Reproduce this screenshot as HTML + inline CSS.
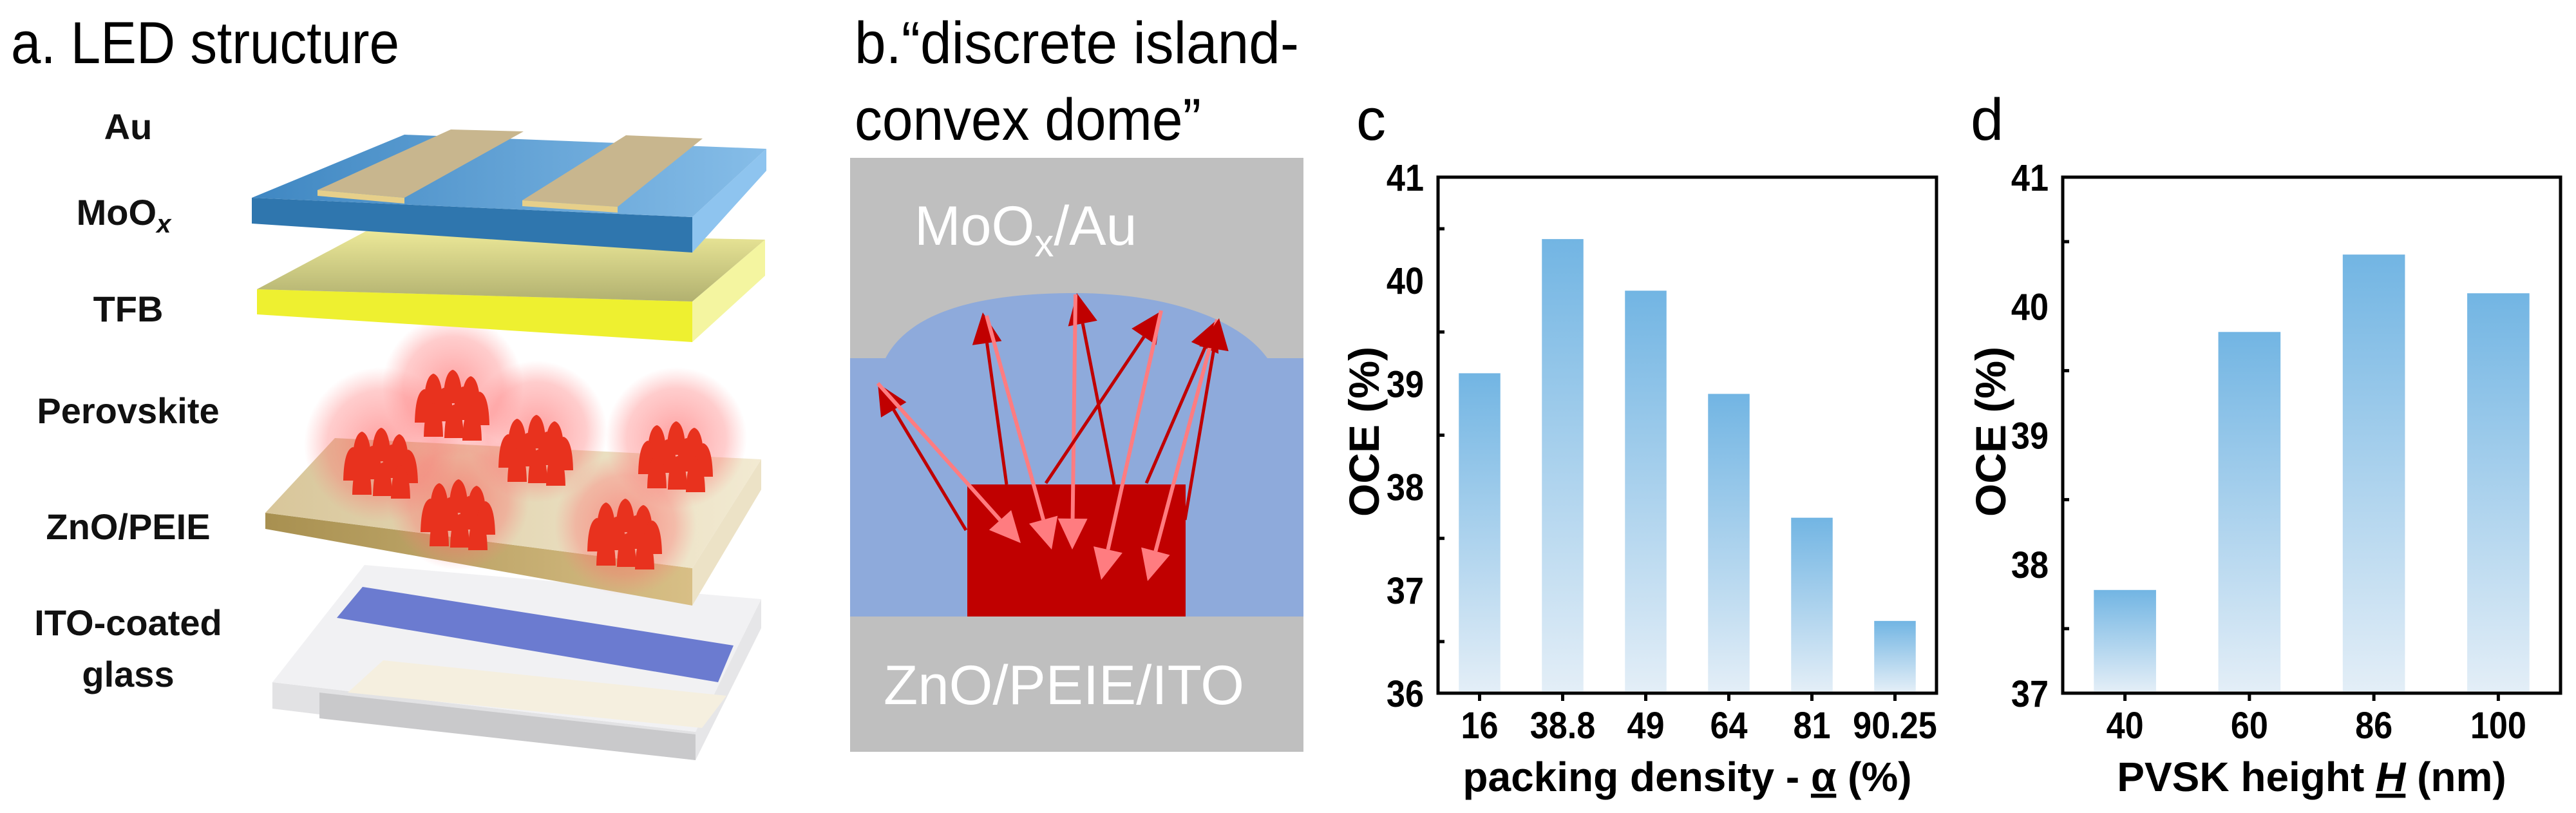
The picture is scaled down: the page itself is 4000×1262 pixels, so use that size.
<!DOCTYPE html>
<html><head><meta charset="utf-8"><style>
html,body{margin:0;padding:0;background:#fff;}
svg{display:block;}
text{font-family:"Liberation Sans",Arial,sans-serif;}
</style></head><body>
<svg id="fig" width="4000" height="1262" viewBox="0 0 4000 1262" xmlns="http://www.w3.org/2000/svg">
<defs>
<linearGradient id="barGrad" x1="0" y1="0" x2="0" y2="1">
<stop offset="0" stop-color="#72b5e3"/><stop offset="1" stop-color="#e3eef7"/></linearGradient>
<radialGradient id="glow"><stop offset="0" stop-color="#ff5050" stop-opacity="0.55"/><stop offset="0.7" stop-color="#ff7070" stop-opacity="0.35"/><stop offset="1" stop-color="#ff8080" stop-opacity="0"/></radialGradient>
<linearGradient id="blueTop" x1="0" y1="0" x2="1" y2="0"><stop offset="0" stop-color="#3f87c2"/><stop offset="1" stop-color="#86bde8"/></linearGradient>
<linearGradient id="yelTop" x1="0" y1="0" x2="0" y2="1"><stop offset="0" stop-color="#e9e58c"/><stop offset="1" stop-color="#a9a860"/></linearGradient>
<linearGradient id="tanTop" x1="0" y1="0" x2="1" y2="0"><stop offset="0" stop-color="#d8c69a"/><stop offset="1" stop-color="#f2ead2"/></linearGradient>
<linearGradient id="tanFront" x1="0" y1="0" x2="1" y2="0"><stop offset="0" stop-color="#a89050"/><stop offset="1" stop-color="#d8bf86"/></linearGradient>
</defs>

<text x="17" y="98" font-size="92" textLength="603" lengthAdjust="spacingAndGlyphs">a. LED structure</text>
<text x="1327" y="98" font-size="92" textLength="690" lengthAdjust="spacingAndGlyphs">b.“discrete island-</text>
<text x="1327" y="217" font-size="92" textLength="538" lengthAdjust="spacingAndGlyphs">convex dome”</text>
<text x="2106" y="217" font-size="92">c</text>
<text x="3060" y="217" font-size="92">d</text>

<g>
<g font-weight="bold" font-size="56" text-anchor="middle" fill="#111">
<text x="199" y="216">Au</text>
<text x="192" y="349">MoO<tspan font-size="40" dy="12" font-style="italic">x</tspan></text>
<text x="199" y="499">TFB</text>
<text x="199" y="657">Perovskite</text>
<text x="199" y="837">ZnO/PEIE</text>
<text x="199" y="986">ITO-coated</text>
<text x="199" y="1066">glass</text>
</g>
<g>
<polygon points="423,1059 1080,1136 1080,1180 423,1100" fill="#e2e2e4"/>
<polygon points="496,1075 1080,1140 1080,1180 496,1115" fill="#c9c9cb"/>
<polygon points="1080,1136 1182,930 1182,975 1080,1180" fill="#e6e6e8"/>
<polygon points="423,1059 566,877 1182,930 1080,1136" fill="#f1f1f3"/>
<polygon points="595,1025 1128,1080 1090,1130 540,1075" fill="#f5efdf"/>
<polygon points="563,911 1139,1002 1115,1059 523,959" fill="#6b7bd0"/>
</g>
<g>
<polygon points="412,796 1075,882 1075,940 412,821" fill="url(#tanFront)"/>
<polygon points="1075,882 1182,713 1182,760 1075,940" fill="#ece2c6"/>
<polygon points="412,796 520,680 1182,713 1075,882" fill="url(#tanTop)"/>
</g>
<g>
<circle cx="592" cy="690" r="120" fill="url(#glow)"/>
<circle cx="703" cy="600" r="110" fill="url(#glow)"/>
<circle cx="833" cy="670" r="110" fill="url(#glow)"/>
<circle cx="1050" cy="680" r="110" fill="url(#glow)"/>
<circle cx="712" cy="775" r="110" fill="url(#glow)"/>
<circle cx="971" cy="815" r="110" fill="url(#glow)"/>
<g id="cones" fill="#e8321e"></g>
</g>
<g>
<polygon points="399,449 1075,468 1075,531 399,488" fill="#eef030"/>
<polygon points="1075,468 1188,372 1188,428 1075,531" fill="#f4f5a0"/>
<polygon points="399,449 568,359 1188,372 1075,468" fill="url(#yelTop)" opacity="0.9"/>
</g>
<g>
<polygon points="391,307 1075,337 1075,392 391,347" fill="#2f76ae"/>
<polygon points="1075,337 1190,231 1190,265 1075,392" fill="#8ec4ef"/>
<polygon points="391,307 628,209 1190,231 1075,337" fill="url(#blueTop)"/>
<polygon points="493,295 628,307 813,204 700,201" fill="#c8b68e"/>
<polygon points="493,295 628,307 628,316 493,304" fill="#e6cf8a"/>
<polygon points="811,311 959,321 1091,215 972,210" fill="#c8b68e"/>
<polygon points="811,311 959,321 959,330 811,320" fill="#e6cf8a"/>
</g>
</g>

<g>
<rect x="1320" y="245" width="704" height="922" fill="#bfbfbf"/>
<path d="M1320,556 L1375,556 C1420,470 1560,455 1670,455 C1800,455 1920,490 1968,556 L2024,556 L2024,957 L1320,957 Z" fill="#8eaadb"/>
<rect x="1502" y="752" width="339" height="205" fill="#c00000"/>
<g id="rays"></g>
<text x="1420" y="380" font-size="86" fill="#fff">MoO<tspan font-size="60" dy="18">x</tspan><tspan dy="-18">/Au</tspan></text>
<text x="1372" y="1093" font-size="86" fill="#fff" textLength="560" lengthAdjust="spacingAndGlyphs">ZnO/PEIE/ITO</text>
</g>

<g id="chartC"></g>
<g id="chartD"></g>
</svg>
<script>
const catsC = ["16","38.8","49","64","81","90.25"];
const valsC = [39.1, 40.4, 39.9, 38.9, 37.7, 36.7];
const ticksC = [36, 37, 38, 39, 40, 41];
const catsD = ["40","60","86","100"];
const valsD = [37.8, 39.8, 40.4, 40.1];
const ticksD = [37, 38, 39, 40, 41];

const NS = "http://www.w3.org/2000/svg";
function mk(tag, attrs, parent){ const e=document.createElementNS(NS,tag); for(const k in attrs) e.setAttribute(k,attrs[k]); parent.appendChild(e); return e; }

function drawChart(g, cats, vals, ticks, box, xTitleParts, yTitleX, key){
  const ymin=ticks[0], ymax=ticks[ticks.length-1];
  const yS = v => box.b - (v-ymin)/(ymax-ymin)*(box.b-box.t);
  const step = (box.r-box.l)/cats.length;
  const xS = i => box.l + step*(i+0.5);
  cats.forEach((c,i)=>{
    const y=yS(vals[i]);
    const r=mk('rect',{x:xS(i)-step/4,y:y,width:step/2,height:yS(ymin)-y-3,fill:'url(#barGrad)'},g);
    
    
    const tk=mk('line',{x1:xS(i),x2:xS(i),y1:box.b,y2:box.b+12,stroke:'#000','stroke-width':5},g);
    
    
    const t=mk('text',{x:xS(i),y:box.b+70,'text-anchor':'middle','font-size':58,'font-weight':'bold'},g);
    t.textContent=c;
    
    
    const w=t.getComputedTextLength(); if(w>0){t.setAttribute('textLength',w*0.9);t.setAttribute('lengthAdjust','spacingAndGlyphs');}
  });
  ticks.forEach((v,j)=>{
    const t=mk('text',{x:box.l-22,y:yS(v)+21,'text-anchor':'end','font-size':58,'font-weight':'bold'},g);
    t.textContent=String(v);
    
    
    const w=t.getComputedTextLength(); if(w>0){t.setAttribute('textLength',w*0.9);t.setAttribute('lengthAdjust','spacingAndGlyphs');}
    if(j<ticks.length-1){
      const m=mk('line',{x1:box.l,x2:box.l+10,y1:yS(v+0.5),y2:yS(v+0.5),stroke:'#000','stroke-width':5},g);
      
      
    }
  });
  const fr=mk('rect',{x:box.l,y:box.t,width:box.r-box.l,height:box.b-box.t,fill:'none',stroke:'#000','stroke-width':5},g);
  
  
  const xt=mk('text',{x:(box.l+box.r)/2,y:1228,'text-anchor':'middle','font-size':64,'font-weight':'bold'},g);
  
  
  xTitleParts.forEach(p=>{const s=mk('tspan',{},xt); s.textContent=p.t; if(p.u){s.setAttribute('text-decoration','underline');} if(p.i){s.setAttribute('font-style','italic');}});
  const yt=mk('text',{x:yTitleX,y:670,'text-anchor':'middle','font-size':66,'font-weight':'bold',transform:'rotate(-90 '+yTitleX+' 670)',dy:'23'},g);
  yt.textContent='OCE (%)';
  
  
}
drawChart(document.getElementById('chartC'), catsC, valsC, ticksC, {l:2233,r:3007,t:275,b:1076},
  [{t:'packing density - '},{t:'α',u:1},{t:' (%)'}], 2118, 'c');
drawChart(document.getElementById('chartD'), catsD, valsD, ticksD, {l:3203,r:3976,t:275,b:1076},
  [{t:'PVSK height '},{t:'H',u:1,i:1},{t:' (nm)'}], 3091, 'd');

const rays=[
 [1500,823,1363,595,'#c00000',5],[1363,595,1585,843,'#ff7c80',6],
 [1563,752,1526,485,'#c00000',5],[1532,490,1633,853,'#ff7c80',6],
 [1730,752,1672,455,'#c00000',5],[1670,457,1665,853,'#ff7c80',6],
 [1624,750,1803,483,'#c00000',5],[1803,482,1710,900,'#ff7c80',6],
 [1780,750,1890,496,'#c00000',5],[1890,496,1782,902,'#ff7c80',6],
 [1840,807,1893,494,'#c00000',5]
];
const rg=document.getElementById('rays');
rays.forEach(r=>{
  const [x1,y1,x2,y2,c,w]=r; const dx=x2-x1, dy=y2-y1, L=Math.hypot(dx,dy), ux=dx/L, uy=dy/L;
  const hl=48, hw=23; const bx=x2-ux*hl, by=y2-uy*hl;
  const ln=mk('line',{x1:x1,y1:y1,x2:bx,y2:by,stroke:c,'stroke-width':w},rg);
  
  
  const hd=mk('polygon',{points:`${x2},${y2} ${bx-uy*hw},${by+ux*hw} ${bx+uy*hw},${by-ux*hw}`,fill:c},rg);
  
  
});

const cg=document.getElementById('cones');
const clusters=[[592,720],[703,630],[833,700],[1050,710],[712,800],[971,830]];
const offs=[[-30,-18],[0,-24],[28,-14],[-44,6],[-14,4],[16,2],[42,10],[-30,28],[2,30],[30,34]];
clusters.forEach(c=>{ offs.forEach(o=>{ const x=c[0]+o[0], y=c[1]+o[1];
  const p=mk('path',{d:`M${x-15},${y+20} Q${x-14},${y-28} ${x},${y-32} Q${x+14},${y-28} ${x+15},${y+20} Z`,fill:'#e8321e'},cg);
  
  
});});
</script>
</body></html>
